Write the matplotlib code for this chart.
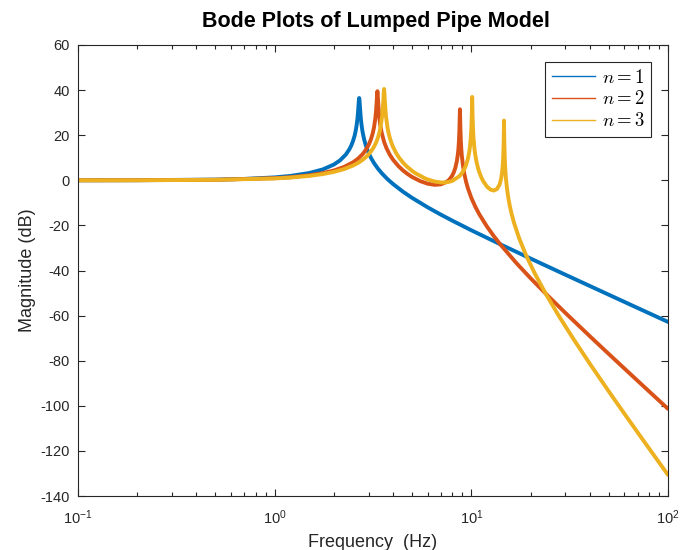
import matplotlib
matplotlib.use("Agg")
import matplotlib.pyplot as plt
from matplotlib.lines import Line2D

# ---- data ----
freq_n1 = [0.1, 0.2, 0.5, 0.7, 1.0, 1.2, 1.5, 1.75, 2.0, 2.15, 2.3, 2.4, 2.45, 2.5, 2.55,
           2.58, 2.6, 2.62, 2.635, 2.65, 2.67, 2.68, 2.69, 2.70, 2.71, 2.73, 2.745, 2.76,
           2.78, 2.8, 2.85, 2.9, 2.95, 3.0, 3.05, 3.1, 3.2, 3.35, 3.5, 3.7, 3.8, 4.0, 4.5,
           5, 6, 7, 8, 10, 14, 20, 30, 50, 70, 100]
mag_n1 = [0.01, 0.05, 0.31, 0.61, 1.29, 1.93, 3.24, 4.78, 6.99, 8.85, 11.40, 13.81, 15.37,
          17.31, 19.79, 21.79, 23.43, 25.45, 27.32, 29.6, 33.55, 35.56, 36.48, 35.49, 33.46,
          29.5, 27.12, 25.20, 23.13, 21.4, 18.17, 15.8, 13.87, 12.26, 10.89, 9.68, 7.64,
          5.18, 3.19, 0.99, 0.04, -1.66, -5.10, -7.80, -11.99, -15.23, -17.89, -22.16,
          -28.33, -34.69, -41.83, -50.74, -56.60, -62.80]

freq_n2 = [0.1, 0.2, 0.5, 1.0, 1.2, 1.5, 1.75, 2.0, 2.25, 2.5, 2.65, 2.8, 2.9, 3.0, 3.08,
           3.15, 3.2, 3.25, 3.28, 3.3, 3.315, 3.33, 3.345, 3.36, 3.39, 3.42, 3.45, 3.5, 3.6,
           3.7, 3.85, 4.0, 4.25, 4.5, 4.75, 5.0, 5.5, 6.0, 6.5, 7.0, 7.5, 7.75, 8.0, 8.15,
           8.3, 8.45, 8.55, 8.6, 8.65, 8.7, 8.72, 8.75, 8.78, 8.8, 8.85, 8.9, 8.95, 9.05,
           9.2, 9.4, 9.6, 10, 10.5, 11, 12, 13, 14, 17, 20, 24, 30, 40, 50, 70, 100]
mag_n2 = [0.01, 0.04, 0.23, 0.94, 1.37, 2.23, 3.16, 4.35, 5.89, 7.94, 9.55, 11.60, 13.35,
          15.58, 17.92, 20.71, 23.46, 27.49, 31.16, 34.60, 37.67, 39.51, 37.64, 34.54, 29.71,
          26.44, 24.03, 21.12, 17.07, 14.31, 11.32, 9.11, 6.37, 4.33, 2.74, 1.46, -0.38,
          -1.51, -2.00, -1.80, -0.67, 0.43, 2.12, 3.60, 5.64, 8.72, 11.91, 14.22, 17.52,
          22.93, 26.39, 31.50, 26.21, 22.67, 16.95, 13.39, 10.78, 7.03, 3.10, -0.62, -3.46,
          -7.80, -11.90, -15.20, -20.47, -24.71, -28.30, -36.84, -43.41, -50.43, -58.71,
          -69.10, -77.03, -88.87, -101.35]

freq_n3 = [0.1, 0.2, 0.5, 1.0, 1.2, 1.5, 1.75, 2.0, 2.25, 2.5, 2.65, 2.8, 2.9, 3.0, 3.1,
           3.2, 3.28, 3.35, 3.4, 3.45, 3.52, 3.57, 3.585, 3.6, 3.615, 3.63, 3.68, 3.75, 3.8,
           3.85, 3.92, 4.0, 4.15, 4.3, 4.5, 4.7, 5.0, 5.2, 5.8, 6.0, 6.5, 7.0, 7.3, 7.65,
           8.0, 8.7, 9.0, 9.2, 9.4, 9.6, 9.75, 9.85, 9.95, 10.0, 10.05, 10.1, 10.15, 10.2,
           10.25, 10.35, 10.45, 10.6, 10.8, 11.0, 11.25, 11.5, 12.0, 12.5, 13.0, 13.5, 13.9,
           14.0, 14.2, 14.35, 14.45, 14.52, 14.6, 14.63, 14.66, 14.69, 14.72, 14.8, 14.9,
           15.0, 15.2, 15.45, 15.7, 16.0, 16.5, 17.5, 19, 21, 24, 28, 33, 40, 50, 60, 75, 100]
mag_n3 = [0.01, 0.03, 0.20, 0.82, 1.20, 1.94, 2.73, 3.72, 4.95, 6.52, 7.69, 9.08, 10.19,
          11.47, 13.01, 14.90, 16.79, 18.90, 20.81, 23.26, 28.50, 35.61, 38.68, 40.50, 38.66,
          35.57, 28.46, 23.20, 20.73, 18.83, 16.69, 14.75, 11.99, 9.92, 7.78, 6.10, 4.16,
          3.12, 0.90, 0.38, -0.54, -0.95, -0.97, -0.75, -0.26, 1.84, 3.43, 4.87, 6.78, 9.45,
          12.36, 15.16, 19.46, 22.84, 28.36, 36.98, 28.26, 22.66, 19.20, 14.77, 11.78, 8.60,
          5.60, 3.37, 1.24, -0.42, -2.76, -4.11, -4.55, -3.87, -1.98, -1.18, 1.13, 3.93,
          6.89, 10.10, 16.77, 21.55, 26.49, 21.30, 16.32, 9.03, 4.07, 0.67, -4.06, -8.24,
          -11.48, -14.67, -18.99, -25.69, -33.32, -41.25, -50.61, -60.45, -70.28, -81.28,
          -93.62, -103.49, -115.42, -130.64]

series_labels = [r"$n = 1$", r"$n = 2$", r"$n = 3$"]
series_colors = ["#0072BD", "#D95319", "#EDB120"]

x_ticks = [0.1, 1, 10, 100]
x_tick_labels = [r"$\mathregular{10^{-1}}$", r"$\mathregular{10^{0}}$",
                 r"$\mathregular{10^{1}}$", r"$\mathregular{10^{2}}$"]
y_ticks = [60, 40, 20, 0, -20, -40, -60, -80, -100, -120, -140]

title_text = "Bode Plots of Lumped Pipe Model"
x_label = "Frequency  (Hz)"
y_label = "Magnitude (dB)"

# ---- styling ----
plt.rcParams["font.family"] = ["Liberation Sans", "DejaVu Sans"]
plt.rcParams["mathtext.fontset"] = "cm"
plt.rcParams["axes.unicode_minus"] = False

W, H = 680, 550
fig = plt.figure(figsize=(W / 100, H / 100), dpi=100)
ax = fig.add_axes([78 / W, 1 - 496 / H, 590 / W, 451 / H])

grey = "#262626"
for f, m, c in zip([freq_n1, freq_n2, freq_n3], [mag_n1, mag_n2, mag_n3], series_colors):
    ax.plot(f, m, color=c, lw=2.8, solid_capstyle="round", solid_joinstyle="round")

ax.set_xscale("log")
ax.set_xlim(0.1, 100)
ax.set_ylim(-140, 60)
ax.set_xticks(x_ticks)
ax.set_xticklabels(x_tick_labels)
ax.set_yticks(y_ticks)
ax.set_yticklabels([str(v) for v in y_ticks])

ax.tick_params(which="both", direction="in", top=True, right=True, colors=grey,
               labelsize=10.5, width=0.8)
ax.tick_params(which="major", length=5)
ax.tick_params(which="minor", length=3)
ax.tick_params(axis="x", pad=9)
ax.tick_params(axis="y", pad=6)
for s in ax.spines.values():
    s.set_color(grey)
    s.set_linewidth(0.8)

fig.text((78 + 668) / 2 / W + 3 / W, 1 - 27 / H, title_text, ha="center", va="baseline",
         fontsize=15.5, fontweight="bold", color="black")
ax.set_xlabel(x_label, fontsize=13, color=grey, labelpad=5)
ax.set_ylabel(y_label, fontsize=13, color=grey, labelpad=3)

handles = [Line2D([], [], color=c, lw=1.0) for c in series_colors]
leg = ax.legend(handles, series_labels, loc="upper right",
                bbox_to_anchor=((651 - 78) / 590, (496 - 62) / 451),
                frameon=True, fancybox=False, edgecolor=grey, framealpha=1,
                fontsize=13.5, handlelength=2.3, handletextpad=0.35, labelspacing=0.2,
                borderpad=0.35, borderaxespad=0)
leg.get_frame().set_linewidth(0.8)

fig.savefig("out.png", dpi=100)
